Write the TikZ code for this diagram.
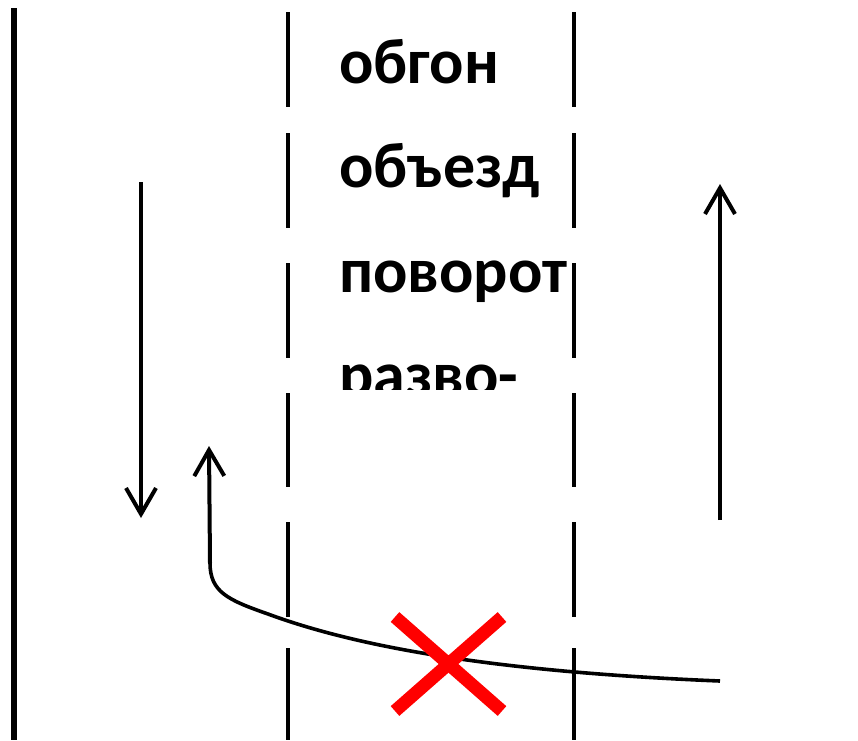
\documentclass[tikz,border=0pt]{standalone}
\usepackage{fontspec}
\newfontfamily\lblfont{Carlito}
\usetikzlibrary{arrows.meta}
\begin{document}
\begin{tikzpicture}[x=1pt,y=-1pt,
  lane/.style={line width=3.8pt},
  edge/.style={line width=6pt},
  move/.style={line width=4pt,-{Straight Barb[length=26pt,width=30pt]}},
  path/.style={line width=3.6pt},
  cross/.style={line width=13pt,draw={rgb,255:red,255;green,0;blue,0}},
  word/.style={anchor=base west,inner sep=0pt,font=\lblfont\bfseries\fontsize{64}{76}\selectfont}]
\useasboundingbox (0,0) rectangle (858,740);
% road edge
\draw[edge] (14,8) -- (14,740);
% lane markings
\foreach \a/\b in {12/107,133/228,263/358,393/487,522/617,648/740}{
  \draw[lane] (288,\a) -- (288,\b);
  \draw[lane] (574,\a) -- (574,\b);
}
% texts, clipped
\begin{scope}
\clip (300,0) rectangle (572,389);
\node[word] (t1) at (339,83) {обгон};
\node[word] (t2) at (339,187) {объезд};
\node[word] (t3) at (339,292) {поворот};
\node[word] (t4) at (339,396) {разво-};
\end{scope}
% arrows
\coordinate (a1s) at (141,182);
\coordinate (a1e) at (141,518);
\coordinate (a2s) at (720,520);
\coordinate (a2e) at (720,184);
\draw[move] (a1s) -- (a1e);
\draw[move] (a2s) -- (a2e);
% turning path
\coordinate (cs) at (720,681);
\coordinate (cm) at (268,614);
\coordinate (cb) at (210,563);
\coordinate (ce) at (209,446);
\draw[path] (cs) .. controls (500,672) and (360,648) .. (cm)
  .. controls (228,600) and (210,592) .. (cb);
\draw[move] (cb) -- (ce);
% forbidden mark
\coordinate (x1) at (395,617);
\coordinate (x2) at (502,711);
\coordinate (x3) at (502,617);
\coordinate (x4) at (395,711);
\draw[cross] (x1) -- (x2);
\draw[cross] (x3) -- (x4);
\end{tikzpicture}
\end{document}
